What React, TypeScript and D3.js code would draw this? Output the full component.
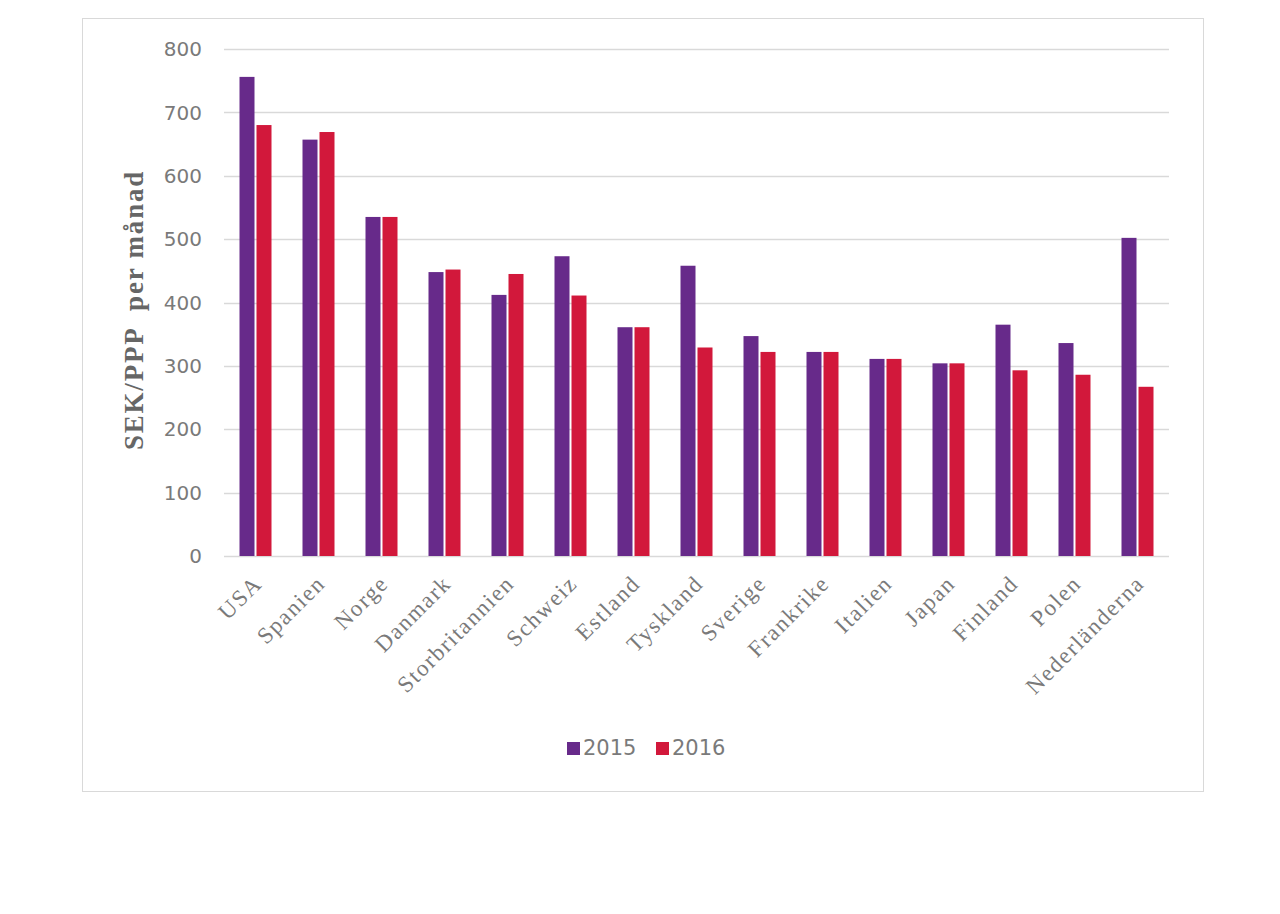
import React, { useRef, useEffect } from "react"
import * as d3 from "d3"

const countries = ["USA", "Spanien", "Norge", "Danmark", "Storbritannien", "Schweiz", "Estland", "Tyskland", "Sverige", "Frankrike", "Italien", "Japan", "Finland", "Polen", "Nederländerna"]
const values2015 = [756, 657, 535, 448, 412, 473, 361, 458, 347, 322, 311, 304, 365, 336, 502]
const values2016 = [680, 669, 535, 452, 445, 411, 361, 329, 322, 322, 311, 304, 293, 286, 267]
const yTicks = [0, 100, 200, 300, 400, 500, 600, 700, 800]
const seriesNames = ["2015", "2016"]
const colors = ["#672a8a", "#d2183b"]

const W = 1280
const H = 914

const App: React.FC = () => {
  const svgRef = useRef<SVGSVGElement>(null)

  useEffect(() => {
    const svg = d3.select(svgRef.current)
    svg.selectAll("*").remove()

    const serif = "'Liberation Serif', 'Times New Roman', serif"
    const sans = "'DejaVu Sans', sans-serif"
    const textColor = "#7a7a7a"

    // outer frame
    svg.append("rect")
      .attr("x", 82.5).attr("y", 18.5)
      .attr("width", 1121).attr("height", 773)
      .attr("fill", "#fff").attr("stroke", "#d9d9d9")

    const left = 224, right = 1169, top = 49, bottom = 556

    const x = d3.scaleBand<string>()
      .domain(countries)
      .range([left, right])

    const y = d3.scaleLinear()
      .domain([0, 800])
      .range([bottom, top])

    // grid
    svg.append("g").selectAll("line")
      .data(yTicks)
      .enter().append("line")
      .attr("x1", left).attr("x2", right)
      .attr("y1", d => Math.round(y(d)) + 0.5)
      .attr("y2", d => Math.round(y(d)) + 0.5)
      .attr("stroke", "#d9d9d9")
      .attr("stroke-width", 1.3)

    // y tick labels
    svg.append("g").selectAll("text")
      .data(yTicks)
      .enter().append("text")
      .attr("x", 202)
      .attr("y", d => y(d))
      .attr("dy", "0.36em")
      .attr("text-anchor", "end")
      .attr("font-family", sans)
      .attr("font-size", 20)
      .attr("fill", textColor)
      .text(d => d)

    // y title
    svg.append("text")
      .attr("transform", `translate(143,310) rotate(-90)`)
      .attr("text-anchor", "middle")
      .attr("font-family", serif)
      .attr("font-size", 27)
      .attr("font-weight", "bold")
      .attr("letter-spacing", 1.8)
      .attr("fill", "#666")
      .attr("xml:space", "preserve")
      .text("SEK/PPP  per månad")

    // bars
    const barW = 15
    const gap = 2
    const series = [values2015, values2016]
    series.forEach((vals, s) => {
      svg.append("g").selectAll("rect")
        .data(vals)
        .enter().append("rect")
        .attr("x", (d, i) => x(countries[i])! + x.bandwidth() / 2 + (s === 0 ? -barW - gap / 2 : gap / 2))
        .attr("y", d => y(d))
        .attr("width", barW)
        .attr("height", d => y(0) - y(d))
        .attr("fill", colors[s])
    })

    // x labels
    svg.append("g").selectAll("text")
      .data(countries)
      .enter().append("text")
      .attr("transform", d => `translate(${x(d)! + x.bandwidth() / 2 + 8},${bottom + 29}) rotate(-45)`)
      .attr("text-anchor", "end")
      .attr("font-family", serif)
      .attr("font-size", 23)
      .attr("letter-spacing", 1.6)
      .attr("fill", textColor)
      .text(d => d)

    // legend
    const legendItems = [{ x: 567, name: seriesNames[0], c: colors[0] }, { x: 656, name: seriesNames[1], c: colors[1] }]
    legendItems.forEach(it => {
      svg.append("rect")
        .attr("x", it.x).attr("y", 742)
        .attr("width", 13).attr("height", 13)
        .attr("fill", it.c)
      svg.append("text")
        .attr("x", it.x + 16).attr("y", 755)
        .attr("font-family", sans)
        .attr("font-size", 21)
        .attr("fill", textColor)
        .text(it.name)
    })
  }, [])

  return (
    <svg ref={svgRef} width={W} height={H}
      style={{ position: "absolute", left: 0, top: 0, background: "#fff" }} />
  )
}

export default App
